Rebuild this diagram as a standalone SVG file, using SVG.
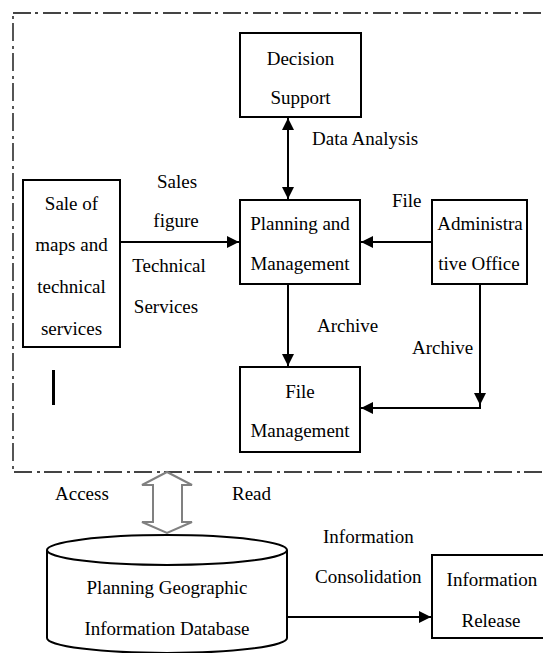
<svg xmlns="http://www.w3.org/2000/svg" width="543" height="653" viewBox="0 0 543 653">
<style>
.box{fill:#fff;stroke:#000;stroke-width:2}
.ln{fill:none;stroke:#000;stroke-width:2}
text{font-family:"Liberation Serif","Times New Roman",serif;font-size:19px;fill:#000}
.c{text-anchor:middle}
</style>
<defs>
<marker id="ah" markerUnits="userSpaceOnUse" markerWidth="12" markerHeight="12" refX="12" refY="6" orient="auto-start-reverse" viewBox="0 0 12 12">
<path d="M0,0 L12,6 L0,12 z" fill="#000"/>
</marker>
</defs>
<rect width="543" height="653" fill="#fff"/>
<g id="boundary">
<rect x="13" y="13" width="560" height="459" fill="none" stroke="#444" stroke-width="1.8" stroke-dasharray="18,4,3,5"/>
</g>
<g id="connectors">
<line class="ln" x1="288" y1="118" x2="288" y2="199" marker-start="url(#ah)" marker-end="url(#ah)"/>
<line class="ln" x1="120" y1="242" x2="239" y2="242" marker-end="url(#ah)"/>
<line class="ln" x1="432" y1="242" x2="361" y2="242" marker-end="url(#ah)"/>
<line class="ln" x1="288" y1="284" x2="288" y2="366" marker-end="url(#ah)"/>
<line class="ln" x1="480" y1="284" x2="480" y2="405" marker-end="url(#ah)"/>
<polyline class="ln" points="480,405 480,408 361,408" marker-end="url(#ah)"/>
<line class="ln" x1="287" y1="617" x2="431" y2="617" marker-end="url(#ah)"/>
<polygon points="167,472 192,485 182,485 182,522 192,522 167,533 142,522 153,522 153,485 142,485" fill="#fff" stroke="#808080" stroke-width="2" stroke-linejoin="miter"/>
<rect x="52" y="370" width="3" height="35" fill="#000"/>
</g>
<g id="decision-support">
<rect class="box" x="240" y="33" width="121" height="84"/>
<text class="c" x="300.5" y="65">Decision</text>
<text class="c" x="300.5" y="104">Support</text>
</g>
<g id="planning-management">
<rect class="box" x="240" y="200" width="120" height="84"/>
<text class="c" x="300" y="230">Planning and</text>
<text class="c" x="300" y="270">Management</text>
</g>
<g id="administrative-office">
<rect class="box" x="432" y="200" width="95" height="84"/>
<text class="c" x="480" y="230">Administra</text>
<text class="c" x="479" y="270">tive Office</text>
</g>
<g id="sale-maps">
<rect class="box" x="23" y="180" width="97" height="167"/>
<text class="c" x="71.5" y="210">Sale of</text>
<text class="c" x="71.5" y="251">maps and</text>
<text class="c" x="71.5" y="293">technical</text>
<text class="c" x="71.5" y="335">services</text>
</g>
<g id="file-management">
<rect class="box" x="240" y="367" width="120" height="85"/>
<text class="c" x="300" y="398">File</text>
<text class="c" x="300" y="437">Management</text>
</g>
<g id="database">
<path d="M47,550 L47,638 A120,15 0 0 0 287,638 L287,550" fill="#fff" stroke="#000" stroke-width="2"/>
<ellipse cx="167" cy="550" rx="120" ry="15" fill="#fff" stroke="#000" stroke-width="2"/>
<text class="c" x="167" y="594">Planning Geographic</text>
<text class="c" x="167" y="635">Information Database</text>
</g>
<g id="information-release">
<rect class="box" x="432" y="555" width="120" height="83"/>
<text class="c" x="492" y="586">Information</text>
<text class="c" x="491" y="627">Release</text>
</g>
<g id="labels">
<text x="312" y="145">Data Analysis</text>
<text class="c" x="177" y="188">Sales</text>
<text class="c" x="176" y="227">figure</text>
<text class="c" x="169" y="272">Technical</text>
<text class="c" x="166" y="313">Services</text>
<text x="392" y="207">File</text>
<text x="317" y="332">Archive</text>
<text x="412" y="354">Archive</text>
<text x="55" y="500">Access</text>
<text x="232" y="500">Read</text>
<text x="323" y="543">Information</text>
<text x="315" y="583">Consolidation</text>
</g>
</svg>
